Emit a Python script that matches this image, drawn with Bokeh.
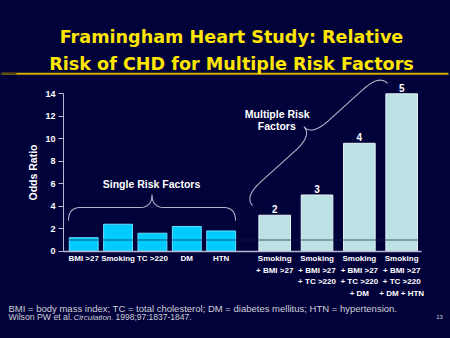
import numpy as np
from math import pi
from bokeh.plotting import figure
from bokeh.models import (FactorRange, Range1d, ColumnDataSource, Label,
                          FixedTicker, LinearAxis, CategoricalAxis)
from bokeh.core.properties import value
from bokeh.embed import file_html
from bokeh.resources import INLINE

# ---------------- data ----------------
single_labels = ["BMI >27", "Smoking", "TC >220", "DM", "HTN"]
single_values = [1.2, 2.4, 1.6, 2.2, 1.8]

multi_labels = [
    "Smoking\n+ BMI >27",
    "Smoking\n+ BMI >27\n+ TC >220",
    "Smoking\n+ BMI >27\n+ TC >220\n+ DM",
    "Smoking\n+ BMI >27\n+ TC >220\n+ DM + HTN",
]
multi_values = [3.2, 5.0, 9.6, 14.0]
risk_counts = ["2", "3", "4", "5"]

y_ticks = [0, 2, 4, 6, 8, 10, 12, 14]

title_lines = ["Framingham Heart Study: Relative",
               "Risk of CHD for Multiple Risk Factors"]
single_group_label = "Single Risk Factors"
multi_group_label = ["Multiple Risk", "Factors"]
y_label = "Odds Ratio"
footnote = ("BMI = body mass index; TC = total cholesterol; "
            "DM = diabetes mellitus; HTN = hypertension.")
citation = ["Wilson PW et al.", "Circulation.", "1998;97:1837-1847."]
slide_no = "13"

# ---------------- style ----------------
BG = "#02023a"
YELLOW = "#FFE600"
GOLD = "#D4AE00"
SINGLE = "#00CCFF"
SINGLE_EDGE = "#66E0FF"
MULTI = "#BDE2E6"
MULTI_EDGE = "#E4F5F6"
AXIS = "#B8B8D0"
BRACE = "#B4B4C8"
NOTE = "#D0D0D8"
FONT = "Liberation Sans"
TFONT = "DejaVu Sans"

W, H = 450, 338
AX_X, AX_Y, AX_R = 63, 250.7, 421      # page position of the axes
PX_PER_UNIT = 11.24                     # page px per odds-ratio unit

# layout of the categorical range (frame = whole page)
FP, SGP, GP, RP = 0.0, 0.2315, 0.5564, 0.92
spacer = ("single", "s", " ")          # empty slot left of the first bar
single_factors = [("single", "s", l) for l in single_labels]
multi_factors = [("multi", "m%d" % i, l) for i, l in enumerate(multi_labels)]

x_range = FactorRange(spacer, *single_factors, *multi_factors,
                      factor_padding=FP, subgroup_padding=SGP,
                      group_padding=GP, range_padding=RP,
                      range_padding_units="absolute")
y_range = Range1d(-(H - AX_Y) / PX_PER_UNIT, AX_Y / PX_PER_UNIT)

_span = 1 + len(single_labels) + GP + len(multi_labels) + (len(multi_labels) - 1) * SGP
X0, X1 = -RP, _span + RP


def X(px):
    """page pixel -> synthetic x coordinate of the factor range"""
    return X0 + np.asarray(px, float) * (X1 - X0) / W


p = figure(width=W, height=H, x_range=x_range, y_range=y_range,
           output_backend="svg", toolbar_location=None, title_location=None,
           x_axis_location=None, y_axis_location=None, min_border=0)
p.background_fill_color = BG
p.border_fill_color = BG
p.outline_line_color = None
p.grid.visible = False
p.extra_y_ranges = {"px": Range1d(H, 0)}

# y axis
ya = LinearAxis(fixed_location=float(X(AX_X)), bounds=(0, 14),
                ticker=FixedTicker(ticks=y_ticks))
ya.axis_line_color = AXIS
ya.axis_line_width = 1
ya.major_tick_line_color = AXIS
ya.major_tick_out = 5
ya.major_tick_in = 0
ya.minor_tick_line_color = None
ya.major_label_standoff = 3
ya.major_label_text_color = "white"
ya.major_label_text_font = FONT
ya.major_label_text_font_style = "bold"
ya.major_label_text_font_size = "9px"
p.add_layout(ya, "left")

# x axis
xa = CategoricalAxis(fixed_location=0, bounds=(float(X(AX_X)), float(X(AX_R))))
xa.axis_line_color = AXIS
xa.axis_line_width = 1.5
xa.major_tick_line_color = None
xa.major_tick_out = 0
xa.major_tick_in = 0
xa.minor_tick_line_color = None
xa.major_label_standoff = 3
xa.major_label_text_color = "white"
xa.major_label_text_font = FONT
xa.major_label_text_font_style = "bold"
xa.major_label_text_font_size = "8px"
xa.major_label_text_line_height = 1.28
xa.group_text_font_size = "1px"
xa.group_text_color = None
xa.subgroup_text_font_size = "1px"
xa.subgroup_text_color = None
xa.separator_line_color = None
p.add_layout(xa, "below")

# bars
src_s = ColumnDataSource(dict(x=single_factors, top=single_values))
p.vbar(x="x", top="top", width=0.84, source=src_s,
       fill_color=SINGLE, line_color=SINGLE_EDGE, line_width=1)
src_m = ColumnDataSource(dict(x=multi_factors, top=multi_values, n=risk_counts))
p.vbar(x="x", top="top", width=0.92, source=src_m,
       fill_color=MULTI, line_color=MULTI_EDGE, line_width=1)
p.text(x="x", y="top", text="n", source=src_m, y_offset=-2,
       text_align="center", text_baseline="bottom", text_color="white",
       text_font=value(FONT), text_font_style="bold", text_font_size="10px")

# reference line at odds ratio 1, across the plotting area
p.segment(x0=[float(X(AX_X + 2))], y0=[1], x1=[float(X(AX_R))], y1=[1],
          line_color="#0a1a40", line_alpha=0.45, line_width=1.5)


# braces (page-pixel coordinates)
def quad(p0, c, p1, n=16):
    t = np.linspace(0, 1, n)[:, None]
    return (1 - t) ** 2 * np.array(p0) + 2 * (1 - t) * t * np.array(c) + t ** 2 * np.array(p1)


def brace(a, b, h, r):
    a = np.array(a, float)
    b = np.array(b, float)
    L = np.hypot(*(b - a))
    d = (b - a) / L
    nrm = np.array([d[1], -d[0]])
    m = h / 2.0
    segs = [
        quad((0, 0), (0, m), (r, m)),
        quad((r, m), (L / 2 - r, m), (L / 2 - r, m), 2),
        quad((L / 2 - r, m), (L / 2, m), (L / 2, h)),
        quad((L / 2, h), (L / 2, m), (L / 2 + r, m)),
        quad((L / 2 + r, m), (L - r, m), (L - r, m), 2),
        quad((L - r, m), (L, m), (L, 0)),
    ]
    pts = np.vstack(segs)
    xy = a + pts[:, :1] * d + pts[:, 1:] * nrm
    return xy[:, 0], xy[:, 1]


for a, b, h, r in [((68, 220), (235, 220), 26, 12), ((252, 205), (387, 83), 24, 22)]:
    bx, by = brace(a, b, h, r)
    p.line(list(X(bx)), list(by), y_range_name="px", line_color=BRACE, line_width=1.1)

# gold rule under the title
p.segment(x0=[float(X(2))], y0=[73.3], x1=[float(X(448))], y1=[73.3],
          y_range_name="px", line_color=GOLD, line_width=2)
p.segment(x0=[float(X(0))], y0=[73.3], x1=[float(X(16))], y1=[73.3],
          y_range_name="px", line_color="#5a4a12", line_width=2)


def put(x, y, text, size, color="white", font=FONT, style="bold", align="center",
        baseline="middle", angle=0.0):
    p.add_layout(Label(x=float(X(x)), y=y, text=text, y_range_name="px",
                       text_font=font, text_font_size=size, text_font_style=style,
                       text_color=color, text_align=align, text_baseline=baseline,
                       angle=angle))


put(231, 36.7, title_lines[0], "17.6px", YELLOW, TFONT, "bold", baseline="alphabetic")
put(231, 63.3, title_lines[1], "17.6px", YELLOW, TFONT, "bold", baseline="alphabetic")

put(151, 183.3, single_group_label, "10.5px")
put(276.7, 113.3, multi_group_label[0], "10.5px")
put(276.3, 125.7, multi_group_label[1], "10.5px")
put(32.5, 172, y_label, "10.5px", angle=pi / 2)

put(8, 307.5, footnote, "9.5px", NOTE, FONT, "normal", align="left", baseline="alphabetic")
put(8, 316.5, citation[0], "8.7px", NOTE, FONT, "normal", align="left", baseline="alphabetic")
put(73, 316.5, citation[1], "8px", NOTE, FONT, "italic", align="left", baseline="alphabetic")
put(115, 316.5, citation[2], "8.5px", NOTE, FONT, "normal", align="left", baseline="alphabetic")
put(439, 316, slide_no, "6px", NOTE, FONT, "normal", align="center", baseline="alphabetic")

html = file_html(p, INLINE)
html = html.replace("<head>", "<head><style>html,body{margin:0;background:%s;}</style>" % BG, 1)
open("out.html", "w").write(html)
